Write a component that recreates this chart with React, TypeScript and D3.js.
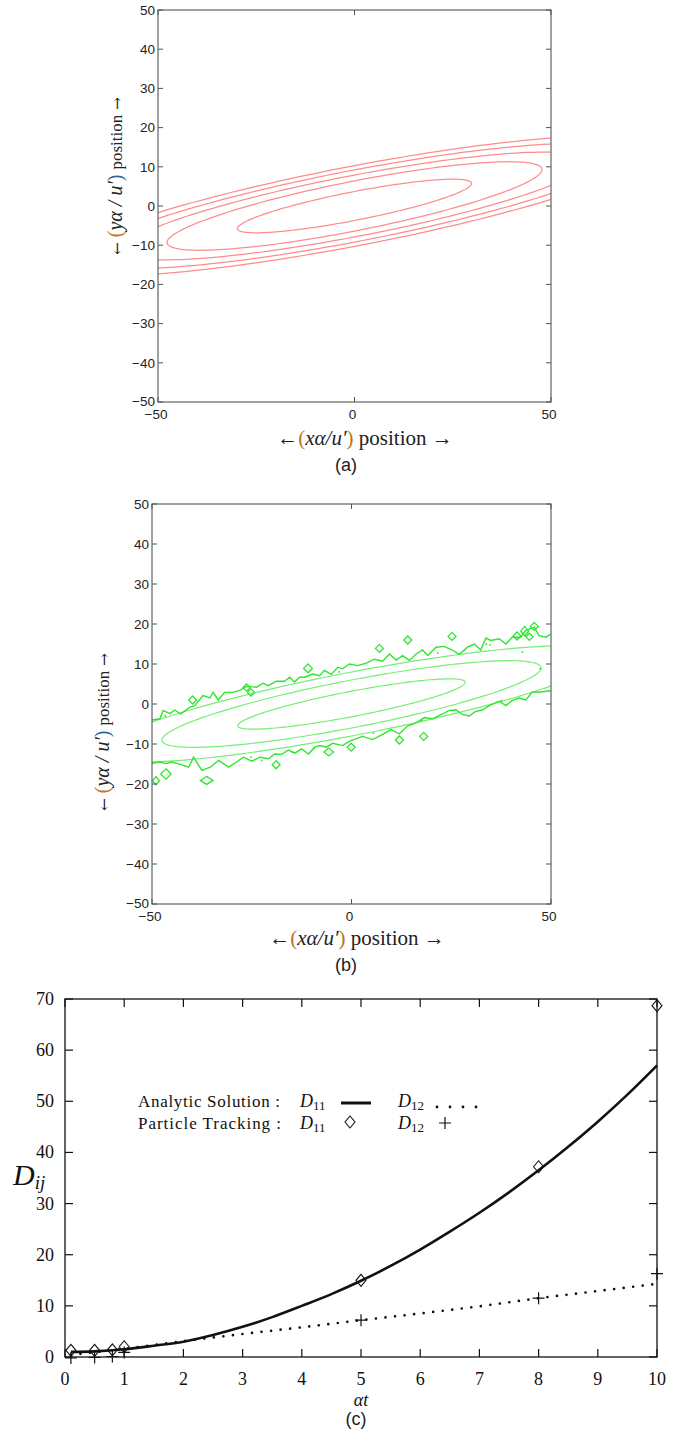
import React from "react";
import * as d3 from "d3";

const WIDTH = 685;
const HEIGHT = 1438;

// position axes shared by panels (a) and (b)
const positionTicksY = [-50, -40, -30, -20, -10, 0, 10, 20, 30, 40, 50];
const positionTicksX = [-50, 0, 50];

// (a) analytic contours, sheared ellipses: half length along x, slope of long axis, half height at x = 0
const analyticHalfLength = [29.8, 47.7, 59.3, 68.8, 77.2];
const analyticSlope = [0.193, 0.195, 0.19, 0.19, 0.19];
const analyticHalfHeight = [3.7, 6.4, 7.9, 9.2, 10.3];

// (b) particle tracking, the three inner contours
const trackedHalfLength = [28.5, 47.5, 64];
const trackedSlope = [0.19, 0.19, 0.19];
const trackedHalfHeight = [3.2, 6.0, 8.0];

// (b) outer noisy contour, upper and lower edge [x, y]
const noisyUpperEdge: [number, number][] = [
  [-50, -4.0], [-48, -3.7], [-47.2, -1.6], [-45.5, -2.4], [-44.3, -1.5], [-42.8, -2.5], [-40.5, -0.8], [-39.3, -0.4],
  [-37.2, 2.1], [-35.5, 1.5], [-34.7, 2.9], [-33.4, 1.0], [-31.8, 2.9], [-29.7, 2.9], [-28, 3.4], [-26.3, 4.4],
  [-23.8, 4.2], [-22.2, 5.2], [-20.9, 4.6], [-18.8, 5.7], [-16.8, 5.7], [-15.5, 6.7], [-14.3, 5.5], [-13, 6.7],
  [-11.8, 6.7], [-9.7, 7.5], [-8, 7.1], [-6.8, 8.4], [-5.1, 7.4], [-3.4, 9.2], [-2.2, 8.8], [-0.5, 10.0],
  [1.5, 9.6], [3.7, 10.2], [5.8, 11.2], [7.8, 10.7], [9.5, 12.5], [11.2, 11.0], [12.8, 12.1], [14.5, 10.9],
  [16.2, 12.5], [17.8, 13.5], [19.1, 12.1], [21.2, 14.2], [23.2, 14.4], [25.3, 13.5], [27, 12.4], [29.1, 14.2],
  [30.8, 15.0], [32.4, 13.5], [33.7, 16.5], [34.9, 15.9], [37, 16.3], [38.7, 15.0], [40.3, 16.7], [42.4, 16.7],
  [43.7, 18.4], [45.8, 19.2], [47, 17.1], [48.7, 16.7], [50, 17.5],
];
const noisyLowerEdge: [number, number][] = [
  [-50, -14.8], [-48, -14.5], [-46.5, -14.9], [-45, -14.5], [-42.9, -15.1], [-40.8, -15.8], [-39.6, -13.3],
  [-37.5, -16.6], [-35.4, -15.8], [-33.3, -14.1], [-30.8, -15.8], [-28.8, -14.5], [-27.1, -13.3], [-25, -14.3],
  [-22.9, -13.3], [-20.8, -13.7], [-19.2, -12.5], [-17.5, -12.6], [-15.8, -11.5], [-14.2, -12.3], [-12.5, -11.2],
  [-10.8, -12.5], [-9.2, -10.8], [-8, -10.4], [-6.3, -10.8], [-4.7, -9.8], [-2.2, -10.4], [-0.5, -9.3],
  [2.8, -8.1], [5.3, -8.9], [7.8, -7.6], [9.9, -6.4], [12, -7.5], [14, -5.5], [16.2, -4.7], [18.3, -3.4],
  [20.3, -3.7], [22.8, -2.5], [24.5, -1.6], [26.2, -1.5], [27.8, -2.6], [29.5, -3.0], [31, -1.9], [32.8, -1.5],
  [34.5, -0.4], [37, 0.7], [38.7, -0.4], [40.3, 0.9], [42, 1.5], [43.7, 1.0], [45.3, 3.0], [47.4, 3.0], [50, 3.3],
];
// (b) isolated islands [x, y, half width, half height]
const islands: [number, number, number, number][] = [
  [-10.9, 8.9, 1.1, 1.1], [-26.3, 4.1, 0.9, 0.9], [-25.2, 2.9, 0.9, 0.9], [-39.8, 1.0, 1.0, 1.0],
  [7.0, 13.9, 1.0, 1.0], [14.1, 16.0, 1.0, 1.0], [25.2, 16.9, 1.0, 1.0], [41.5, 17.0, 1.0, 1.0],
  [43.4, 18.2, 1.0, 1.2], [45.8, 19.4, 1.0, 1.0], [44.6, 16.8, 0.9, 0.9],
  [-46.5, -17.5, 1.3, 1.3], [-49.0, -19.2, 0.9, 1.0], [-36.3, -19.1, 1.6, 1.0], [-18.9, -15.2, 1.0, 1.0],
  [-5.7, -12.0, 1.2, 1.0], [-0.1, -10.8, 1.0, 1.0], [12.0, -9.0, 1.0, 1.0], [18.1, -8.1, 1.0, 1.0],
];
const specks: [number, number][] = [
  [-46.7, -3.0], [-3.1, 8.0], [-25.2, -13.3], [-22.5, -14.1], [-14.8, -12.0], [-9.4, -11.1], [21.6, 12.7],
  [33.8, 15.0], [34.7, 14.8], [42.8, 13.0], [37.6, 0.9], [17.6, -4.1], [5.5, -7.3], [2.7, -8.1], [47.3, 8.8],
];

// (c) dispersion coefficients
const ticksT = [0, 1, 2, 3, 4, 5, 6, 7, 8, 9, 10];
const ticksD = [0, 10, 20, 30, 40, 50, 60, 70];
const analyticT = [0.1, 0.5, 1, 1.5, 2, 2.5, 3, 3.5, 4, 4.5, 5, 5.5, 6, 6.5, 7, 7.5, 8, 8.5, 9, 9.5, 10];
const d11Analytic = [1.0, 1.1, 1.5, 2.2, 3.0, 4.3, 5.9, 7.8, 10.0, 12.3, 14.9, 17.8, 21.0, 24.5, 28.2, 32.2, 36.5, 41.1, 46.0, 51.3, 57.0];
const d12T = [0.1, 1, 2, 3, 4, 5, 6, 7, 8, 9, 10];
const d12Analytic = [0.4, 1.6, 3.1, 4.5, 5.8, 7.2, 8.5, 9.9, 11.5, 12.9, 14.3];
const trackT = [0.1, 0.5, 0.8, 1, 5, 8, 10];
const d11Tracked = [1.3, 1.3, 1.4, 2.0, 15.0, 37.2, 68.7];
const d12Tracked = [-0.2, -0.1, 0.1, 0.9, 7.2, 11.5, 16.3];

const SANS = "Liberation Sans, Arial, sans-serif";
const SERIF = "Liberation Serif, Times New Roman, serif";
const fmt = d3.format("d");

function shearedEllipse(halfLength, slope, halfHeight, x, y) {
  const pts = d3.range(0, 360, 2).map((deg) => {
    const phi = (deg * Math.PI) / 180;
    const dx = halfLength * Math.cos(phi);
    return [x(dx), y(slope * dx + halfHeight * Math.sin(phi))] as [number, number];
  });
  return d3.line()(pts) + "Z";
}

function PositionAxes({ x, y, labelX }) {
  const [x0, x1] = x.range();
  const [y0, y1] = y.range();
  return (
    <g fontFamily={SANS} fontSize={13.5} fill="#222">
      <rect x={x0} y={y1} width={x1 - x0} height={y0 - y1} fill="none" stroke="#555" strokeWidth={1.1} />
      {positionTicksY.map((t) => (
        <g key={t}>
          <line x1={x0} x2={x0 + 5} y1={y(t)} y2={y(t)} stroke="#555" />
          <line x1={x1} x2={x1 - 5} y1={y(t)} y2={y(t)} stroke="#555" />
          <text x={labelX} y={y(t) - (t === -50 ? 1 : 0)} dy="0.36em" textAnchor="end">{fmt(t)}</text>
        </g>
      ))}
      {positionTicksX.map((t) => (
        <g key={t}>
          <line x1={x(t)} x2={x(t)} y1={y0} y2={y0 - 5} stroke="#555" />
          <line x1={x(t)} x2={x(t)} y1={y1} y2={y1 + 5} stroke="#555" />
          <text x={x(t) - 2} y={y0 + 17} textAnchor="middle">{fmt(t)}</text>
        </g>
      ))}
    </g>
  );
}

function PositionLabels({ xlabelX, xlabelY, ylabelX, ylabelY }) {
  return (
    <g fontFamily={SERIF} fill="#222">
      <text x={xlabelX} y={xlabelY} fontSize={21} textAnchor="middle">
        ←<tspan fill="#b8741a">(</tspan>
        <tspan fontStyle="italic">xα/u′</tspan>
        <tspan fill="#b8741a">)</tspan> position →
      </text>
      <text transform={`translate(${ylabelX},${ylabelY}) rotate(-90)`} fontSize={20} textAnchor="middle">
        <tspan fontFamily="DejaVu Serif, serif" fontSize={15}>←</tspan> <tspan fill="#c8741a">(</tspan>
        <tspan fontStyle="italic">yα / u′</tspan>
        <tspan fill="#2f5f9f">)</tspan> <tspan fontSize={17}>position</tspan>{" "}
        <tspan fontFamily="DejaVu Serif, serif" fontSize={15}>→</tspan>
      </text>
    </g>
  );
}

export default function App() {
  const xA = d3.scaleLinear().domain([-50, 50]).range([158, 551]);
  const yA = d3.scaleLinear().domain([-50, 50]).range([402, 10]);
  const xB = d3.scaleLinear().domain([-50, 50]).range([152, 551]);
  const yB = d3.scaleLinear().domain([-50, 50]).range([904, 504]);
  const xC = d3.scaleLinear().domain([0, 10]).range([65, 657]);
  const yC = d3.scaleLinear().domain([0, 70]).range([1357, 999]);

  const edgeB = d3.line<[number, number]>().x((d) => xB(d[0])).y((d) => yB(d[1]));
  const d11Line = d3.line<number>().x((_, i) => xC(analyticT[i])).y((v) => yC(v)).curve(d3.curveMonotoneX)(d11Analytic);
  const d12Line = d3.line<number>().x((_, i) => xC(d12T[i])).y((v) => yC(v))(d12Analytic);

  const diamond = (cx, cy, rx, ry) => `M${cx},${cy - ry}L${cx + rx},${cy}L${cx},${cy + ry}L${cx - rx},${cy}Z`;

  return (
    <svg width={WIDTH} height={HEIGHT} style={{ position: "absolute", left: 0, top: 0, background: "#fff" }}>
      <defs>
        <clipPath id="clipA"><rect x={158} y={10} width={393} height={392} /></clipPath>
        <clipPath id="clipB"><rect x={152} y={504} width={399} height={400} /></clipPath>
      </defs>

      {/* (a) */}
      <g clipPath="url(#clipA)" fill="none" stroke="#ff8c8c" strokeWidth={1.25}>
        {analyticHalfLength.map((L, i) => (
          <path key={i} d={shearedEllipse(L, analyticSlope[i], analyticHalfHeight[i], xA, yA)} />
        ))}
      </g>
      <PositionAxes x={xA} y={yA} labelX={155} />
      <PositionLabels xlabelX={365} xlabelY={445} ylabelX={122} ylabelY={176} />
      <text x={346} y={471} fontFamily={SANS} fontSize={18} textAnchor="middle" fill="#222">(a)</text>

      {/* (b) */}
      <g clipPath="url(#clipB)" fill="none">
        {trackedHalfLength.map((L, i) => (
          <path key={i} d={shearedEllipse(L, trackedSlope[i], trackedHalfHeight[i], xB, yB)} stroke="#74ee74" strokeWidth={1.2} />
        ))}
        <path d={edgeB(noisyUpperEdge)} stroke="#2ee62e" strokeWidth={1.4} />
        <path d={edgeB(noisyLowerEdge)} stroke="#2ee62e" strokeWidth={1.4} />
        {islands.map(([cx, cy, rx, ry], i) => (
          <path key={i} d={diamond(xB(cx), yB(cy), xB(cx + rx) - xB(cx), yB(cy) - yB(cy + ry))} stroke="#2ee62e" strokeWidth={1.3} />
        ))}
        {specks.map(([cx, cy], i) => (
          <circle key={i} cx={xB(cx)} cy={yB(cy)} r={0.9} fill="#2ee62e" stroke="none" />
        ))}
      </g>
      <PositionAxes x={xB} y={yB} labelX={149} />
      <PositionLabels xlabelX={357} xlabelY={945} ylabelX={109} ylabelY={732} />
      <text x={346} y={971} fontFamily={SANS} fontSize={18} textAnchor="middle" fill="#222">(b)</text>

      {/* (c) */}
      <g fontFamily={SERIF} fontSize={18} fill="#111">
        <rect x={65} y={999} width={592} height={358} fill="none" stroke="#111" strokeWidth={1.3} />
        {ticksT.map((t) => (
          <g key={t}>
            <line x1={xC(t)} x2={xC(t)} y1={1357} y2={1349} stroke="#111" strokeWidth={1.2} />
            <line x1={xC(t)} x2={xC(t)} y1={999} y2={1007} stroke="#111" strokeWidth={1.2} />
            <text x={xC(t)} y={1385} textAnchor="middle">{t}</text>
          </g>
        ))}
        {ticksD.map((t) => (
          <g key={t}>
            <line x1={65} x2={73} y1={yC(t)} y2={yC(t)} stroke="#111" strokeWidth={1.2} />
            <line x1={657} x2={649} y1={yC(t)} y2={yC(t)} stroke="#111" strokeWidth={1.2} />
            <text x={54} y={yC(t)} dy="0.33em" textAnchor="end">{t}</text>
          </g>
        ))}
        <path d={d12Line} fill="none" stroke="#111" strokeWidth={2.7} strokeDasharray="0 9.6" strokeLinecap="round" />
        <path d={d11Line} fill="none" stroke="#111" strokeWidth={2.6} />
        {trackT.map((t, i) => (
          <path key={`d${i}`} d={diamond(xC(t), yC(d11Tracked[i]), 5, 6)} fill="none" stroke="#111" strokeWidth={1.1} />
        ))}
        {trackT.map((t, i) => (
          <path key={`p${i}`} d={`M${xC(t) - 6},${yC(d12Tracked[i])}h12M${xC(t)},${yC(d12Tracked[i]) - 6}v12`} stroke="#111" strokeWidth={1.2} />
        ))}

        {/* legend */}
        <text x={138} y={1107} fontSize={17} textLength={142} lengthAdjust="spacing">Analytic Solution :</text>
        <text x={138} y={1129} fontSize={17} textLength={143} lengthAdjust="spacing">Particle  Tracking :</text>
        <text x={300} y={1107} fontSize={18}><tspan fontStyle="italic">D</tspan><tspan fontSize={13} dy={3}>11</tspan></text>
        <line x1={341} x2={371} y1={1103} y2={1103} stroke="#111" strokeWidth={3} />
        <text x={398} y={1107} fontSize={18}><tspan fontStyle="italic">D</tspan><tspan fontSize={13} dy={3}>12</tspan></text>
        {[437, 450, 463, 476].map((cx) => <circle key={cx} cx={cx} cy={1107} r={1.4} fill="#111" />)}
        <text x={300} y={1129} fontSize={18}><tspan fontStyle="italic">D</tspan><tspan fontSize={13} dy={3}>11</tspan></text>
        <path d={diamond(350, 1122, 5, 6)} fill="none" stroke="#111" strokeWidth={1.1} />
        <text x={398} y={1129} fontSize={18}><tspan fontStyle="italic">D</tspan><tspan fontSize={13} dy={3}>12</tspan></text>
        <path d="M439,1123h12M445,1117v12" stroke="#111" strokeWidth={1.2} />

        <text x={13} y={1185} fontSize={30}><tspan fontStyle="italic">D</tspan><tspan fontStyle="italic" fontSize={19} dy={4}>ij</tspan></text>
        <text x={361} y={1406} fontSize={18} fontStyle="italic" textAnchor="middle">αt</text>
      </g>
      <text x={356} y={1425} fontFamily={SANS} fontSize={18} textAnchor="middle" fill="#222">(c)</text>
    </svg>
  );
}
